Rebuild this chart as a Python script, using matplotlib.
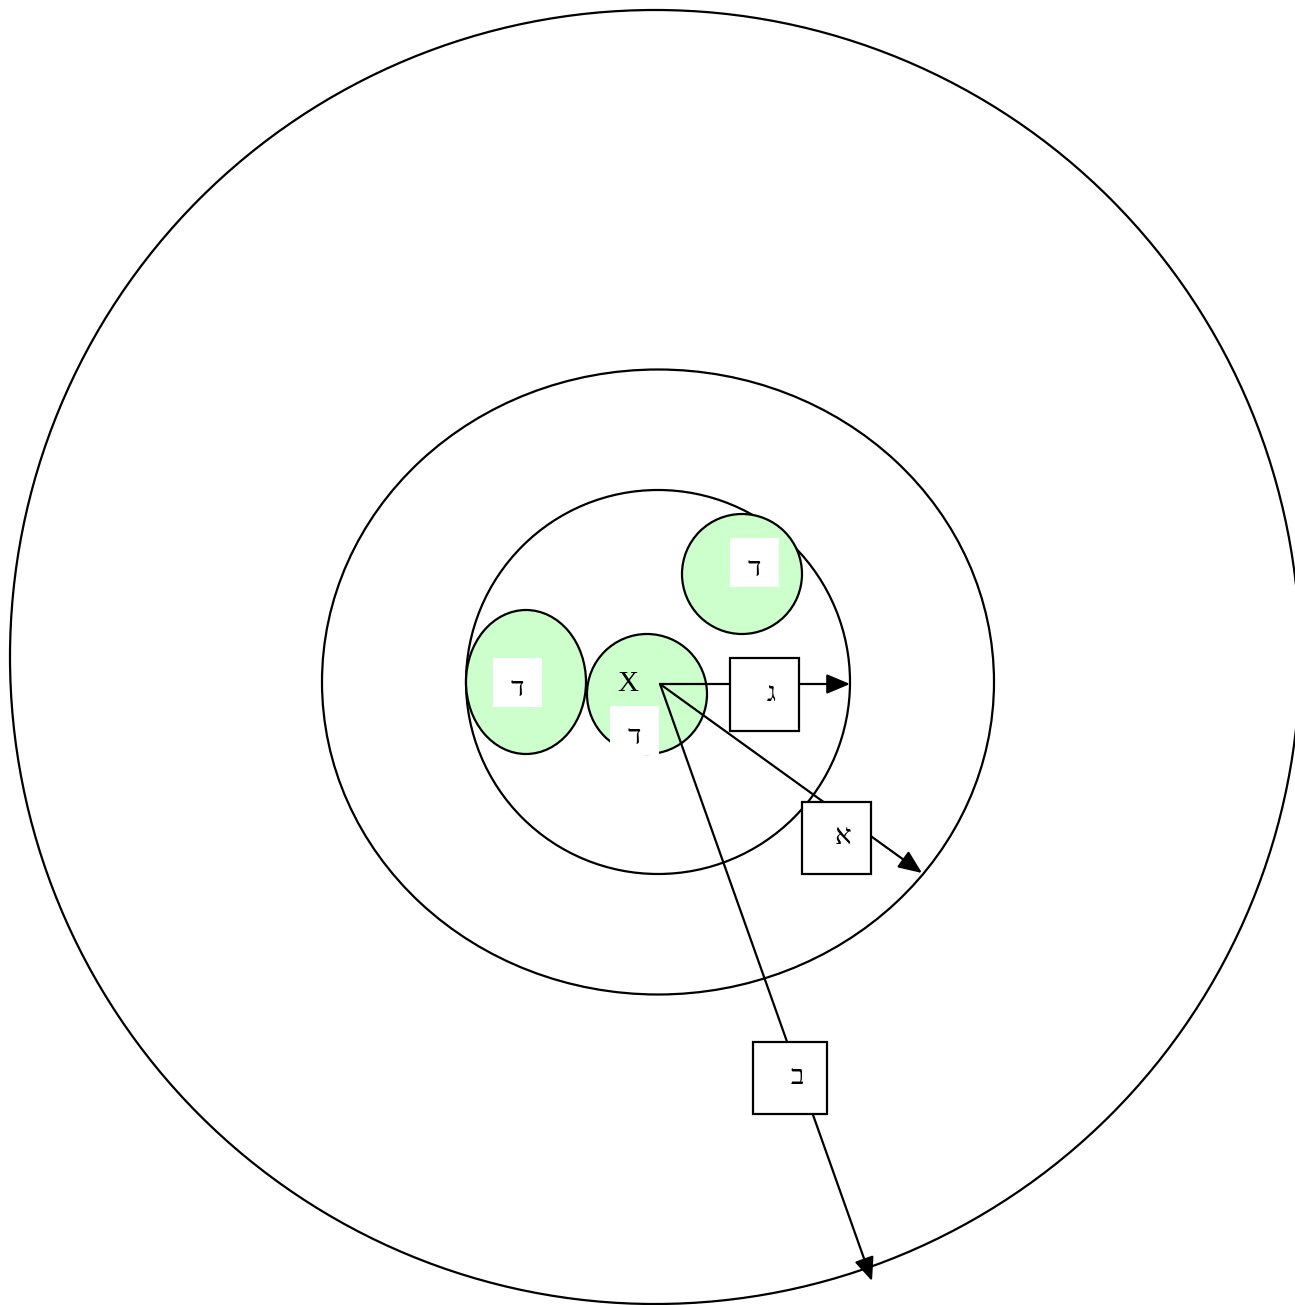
import matplotlib
matplotlib.use("Agg")
import matplotlib.pyplot as plt
from matplotlib.patches import Ellipse, Rectangle, FancyArrowPatch

# Rings (center x, center y, width, height) in pixel coordinates
ring_cx = [655, 658, 658]
ring_cy = [657, 682, 682]
ring_w = [1290, 672, 384]
ring_h = [1294, 625, 384]

# Green groups
green_cx = [742, 526, 647]
green_cy = [574, 682, 694]
green_w = [120, 120, 120]
green_h = [120, 144, 120]

# White label patches inside green groups
lab_x = [730, 493, 610]
lab_y = [538, 658, 706]
lab_text = ["ד", "ד", "ד"]

# Boxes with letters
box_x = [730, 802, 753]
box_y = [658, 802, 1042]
box_w = [69, 69, 74]
box_h = [73, 72, 72]
box_text = ["ג", "א", "ב"]

# Arrows from X
origin = (660, 684)
arrow_end_x = [850, 922, 872]
arrow_end_y = [684, 873, 1281]

fig = plt.figure(figsize=(12.95, 13.05), dpi=100)
ax = fig.add_axes([0, 0, 1, 1])
ax.set_xlim(0, 1295)
ax.set_ylim(1305, 0)
ax.set_aspect("equal")
ax.axis("off")

fam = ["Liberation Serif", "DejaVu Serif", "DejaVu Sans"]
lw = 1.6
for cx, cy, w, h in zip(ring_cx, ring_cy, ring_w, ring_h):
    ax.add_patch(Ellipse((cx, cy), w, h, fill=False, ec="black", lw=lw, zorder=1))

for cx, cy, w, h in zip(green_cx, green_cy, green_w, green_h):
    ax.add_patch(Ellipse((cx, cy), w, h, fc="#CCFFCC", ec="black", lw=lw, zorder=2))

for x, y, t in zip(lab_x, lab_y, lab_text):
    ax.add_patch(Rectangle((x, y), 49, 49, fc="white", ec="none", zorder=3))
    ax.text(x + 24, y + 31, t, fontsize=20, family=fam,
            ha="center", va="center", zorder=4)

ax.text(628, 684, "X", fontsize=21, family="Liberation Serif", ha="center", va="center", zorder=4)

for ex, ey in zip(arrow_end_x, arrow_end_y):
    ax.add_patch(FancyArrowPatch(origin, (ex, ey), arrowstyle="-|>,head_length=1.3,head_width=0.55",
                                 mutation_scale=11, color="black", lw=lw, zorder=5,
                                 shrinkA=0, shrinkB=0))

for x, y, w, h, t in zip(box_x, box_y, box_w, box_h, box_text):
    ax.add_patch(Rectangle((x, y), w, h, fc="white", ec="black", lw=lw, zorder=6))
    ax.text(x + w * 0.6, y + h * 0.5, t, fontsize=20, family=fam,
            ha="center", va="center", zorder=7)

fig.savefig("out.png", dpi=100)
